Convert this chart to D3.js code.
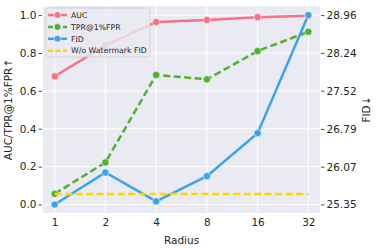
<!DOCTYPE html>
<html>
<head>
<meta charset="utf-8">
<script src="https://cdn.jsdelivr.net/npm/d3@7"></script>
<style>
  body { margin: 0; background: #fff; }
  text { font-family: "DejaVu Sans", sans-serif; fill: #262626; }
</style>
</head>
<body>
<div id="chart"></div>
<script>
// Data
const radii = ["1", "2", "4", "8", "16", "32"];
const auc = [0.677, 0.839, 0.963, 0.974, 0.989, 0.996];
const tpr = [0.056, 0.222, 0.684, 0.661, 0.81, 0.912];
const fid = [25.35, 25.96, 25.41, 25.89, 26.71, 28.96];
const fidBaseline = 25.55;
const leftTicks = [0, 0.2, 0.4, 0.6, 0.8, 1.0];
const rightTicks = [25.35, 26.07, 26.79, 27.52, 28.24, 28.96];

const width = 377, height = 249;
const plot = { left: 43, right: 320, top: 6, bottom: 213 };

const svg = d3.select("#chart").append("svg")
  .attr("width", width).attr("height", height);

const x = d3.scaleLinear().domain([-0.23, radii.length - 1 + 0.23]).range([plot.left, plot.right]);
const y = d3.scaleLinear().domain([-0.045, 1.048]).range([plot.bottom, plot.top]);
const fidMin = 25.35, fidMax = 28.96;
const y2 = d3.scaleLinear()
  .domain([fidMin + (-0.045) * (fidMax - fidMin), fidMin + 1.048 * (fidMax - fidMin)])
  .range([plot.bottom, plot.top]);

// Background
svg.append("rect")
  .attr("x", plot.left).attr("y", plot.top)
  .attr("width", plot.right - plot.left).attr("height", plot.bottom - plot.top)
  .attr("fill", "#eaeaf2");

// Grid
const grid = svg.append("g").attr("stroke", "#fff").attr("stroke-width", 1);
grid.selectAll(".gx").data(radii).join("line")
  .attr("x1", (d, i) => x(i)).attr("x2", (d, i) => x(i))
  .attr("y1", plot.top).attr("y2", plot.bottom);
grid.selectAll(".gy").data(leftTicks).join("line")
  .attr("x1", plot.left).attr("x2", plot.right)
  .attr("y1", d => y(d)).attr("y2", d => y(d));

// Axes
const xAxis = d3.axisBottom(x).tickValues(d3.range(radii.length))
  .tickFormat(i => radii[i]).tickSize(0).tickPadding(6);
svg.append("g").attr("transform", `translate(0,${plot.bottom})`).call(xAxis)
  .call(g => g.select(".domain").remove())
  .selectAll("text").attr("font-size", 10.5).attr("fill", "#262626");

const yAxis = d3.axisLeft(y).tickValues(leftTicks)
  .tickFormat(d3.format(".1f")).tickSize(3.5).tickPadding(2);
svg.append("g").attr("transform", `translate(${plot.left - 1},0)`).call(yAxis)
  .call(g => g.select(".domain").remove())
  .call(g => g.selectAll("line").attr("stroke", "#262626").attr("stroke-width", 0.8))
  .selectAll("text").attr("font-size", 10.5).attr("fill", "#262626");

const yAxis2 = d3.axisRight(y2).tickValues(rightTicks)
  .tickFormat(d3.format(".2f")).tickSize(3.5).tickPadding(2);
svg.append("g").attr("transform", `translate(${plot.right + 1},0)`).call(yAxis2)
  .call(g => g.select(".domain").remove())
  .call(g => g.selectAll("line").attr("stroke", "#262626").attr("stroke-width", 0.8))
  .selectAll("text").attr("font-size", 10.5).attr("fill", "#262626");

// Axis labels
svg.append("text").attr("x", (plot.left + plot.right) / 2).attr("y", 244)
  .attr("text-anchor", "middle").attr("font-size", 10.5).text("Radius");
svg.append("text")
  .attr("transform", `translate(12,${(plot.top + plot.bottom) / 2}) rotate(-90)`)
  .attr("text-anchor", "middle").attr("font-size", 10.5).text("AUC/TPR@1%FPR↑");
svg.append("text")
  .attr("transform", `translate(370,${(plot.top + plot.bottom) / 2}) rotate(-90)`)
  .attr("text-anchor", "middle").attr("font-size", 10.5).text("FID↓");

// Series
const series = [
  { name: "AUC", values: auc, scale: y, color: "#f77189", dash: null, marker: true },
  { name: "TPR@1%FPR", values: tpr, scale: y, color: "#50b131", dash: "7,3.5", marker: true },
  { name: "FID", values: fid, scale: y2, color: "#3ba3ec", dash: null, marker: true },
  { name: "W/o Watermark FID", values: radii.map(() => fidBaseline), scale: y2, color: "#ffd700", dash: "7,3.5", marker: false }
];

series.forEach(s => {
  const line = d3.line().x((d, i) => x(i)).y(d => s.scale(d));
  svg.append("path").datum(s.values)
    .attr("fill", "none").attr("stroke", s.color).attr("stroke-width", 2.5)
    .attr("stroke-dasharray", s.dash).attr("d", line);
  if (s.marker) {
    svg.append("g").selectAll("circle").data(s.values).join("circle")
      .attr("cx", (d, i) => x(i)).attr("cy", d => s.scale(d)).attr("r", 3.6)
      .attr("fill", s.color).attr("stroke", "#fff").attr("stroke-width", 0.5);
  }
});

// Legend
const legend = svg.append("g").attr("transform", "translate(46,8)");
legend.append("rect").attr("width", 104).attr("height", 49).attr("rx", 2.5)
  .attr("fill", "#eaeaf2").attr("fill-opacity", 0.8).attr("stroke", "#cccccc").attr("stroke-width", 0.8);
series.forEach((s, i) => {
  const row = legend.append("g").attr("transform", `translate(2,${7 + i * 11.9})`);
  row.append("line").attr("x1", 0).attr("x2", 19).attr("y1", 0).attr("y2", 0)
    .attr("stroke", s.color).attr("stroke-width", 2.5)
    .attr("stroke-dasharray", s.dash ? "5,2.5" : null);
  if (s.marker) {
    row.append("circle").attr("cx", 9.5).attr("cy", 0).attr("r", 3.3)
      .attr("fill", s.color).attr("stroke", "#fff").attr("stroke-width", 0.5);
  }
  row.append("text").attr("x", 23).attr("y", 0).attr("dy", "0.35em")
    .attr("font-size", 7.8).text(s.name);
});
</script>
</body>
</html>
